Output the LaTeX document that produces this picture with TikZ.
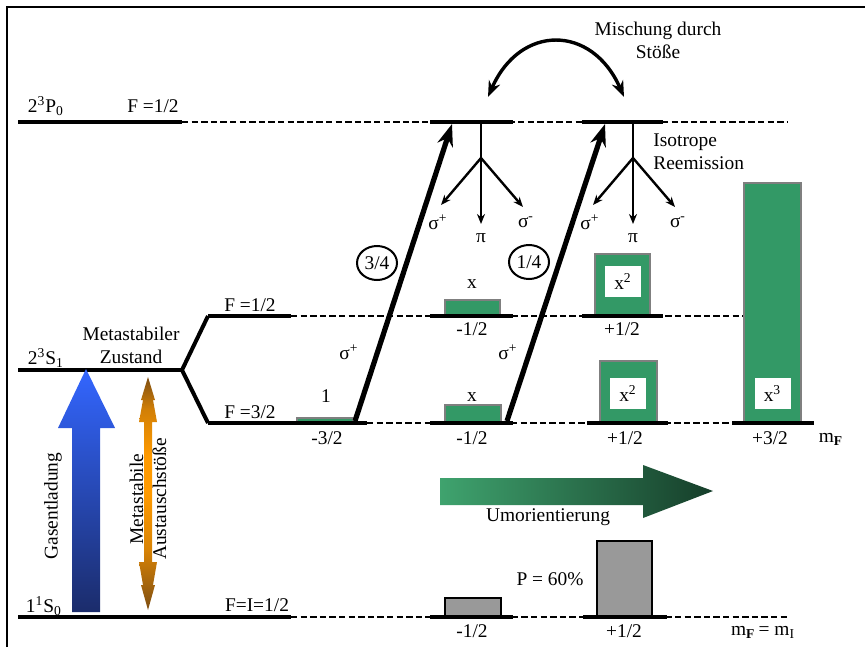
\documentclass[tikz,border=0pt]{standalone}
\usepackage{fontspec}
\setmainfont{Liberation Serif}
\usepackage{tikz}
\usetikzlibrary{arrows.meta,shapes.geometric}
\definecolor{popgreen}{HTML}{339966}
\definecolor{bargray}{HTML}{999999}
\definecolor{edgegray}{HTML}{7F7F7F}
\definecolor{gasblue}{HTML}{3366FF}
\definecolor{gasnavy}{HTML}{1B2C6B}
\definecolor{exorange}{HTML}{FF9A00}
\definecolor{exbrown}{HTML}{7E4E12}
\definecolor{umlight}{HTML}{3FA36E}
\definecolor{umdark}{HTML}{163E2A}
\pgfdeclareverticalshading{exshade}{100bp}{color(0bp)=(exbrown); color(25bp)=(exbrown); color(38bp)=(exorange!70!exbrown); color(50bp)=(exorange); color(58bp)=(exorange); color(68bp)=(exorange!65!exbrown); color(75bp)=(exbrown); color(100bp)=(exbrown)}

\begin{document}
\begin{tikzpicture}[x=0.5pt,y=-0.5pt,every node/.style={font=\fontsize{9.7}{11.5}\selectfont,inner sep=1pt},lvl/.style={line width=2pt},dashlvl/.style={line width=0.6pt,dash pattern=on 3.2pt off 1.6pt},pump/.style={-{Stealth[length=11pt,width=8pt]},line width=2.6pt},emit/.style={-{Stealth[length=5pt,width=4pt]},line width=1.2pt},popbar/.style={draw=edgegray,line width=0.9pt,fill=popgreen},graybar/.style={draw=black,line width=0.8pt,fill=bargray},inbox/.style={fill=white,minimum width=18pt,minimum height=15.5pt,inner sep=0pt},ring/.style={draw,ellipse,line width=1pt,minimum width=20pt,minimum height=17pt,inner sep=0pt}]
\useasboundingbox (0,0) rectangle (865,647);
\draw[line width=1pt] (7,647) -- (7,7) -- (865,7);

% dashed baselines
\draw[dashlvl] (182,122) -- (787,122);
\draw[dashlvl] (291,316) -- (745,316);
\draw[dashlvl] (367,423) -- (732,423);
\draw[dashlvl] (291,617) -- (787,617);

% populations
\draw[popbar] (445,300) rectangle (500,316);
\draw[popbar] (595,254) rectangle (650,316);
\draw[popbar] (297,418) rectangle (353,423);
\draw[popbar] (445,405) rectangle (501,423);
\draw[popbar] (600,361) rectangle (657,423);
\draw[popbar] (744,183) rectangle (801,423);
\draw[graybar] (445,598) rectangle (501,617);
\draw[graybar] (597,541) rectangle (652,617);
\node[inbox] (xa) at (623,281.5) {x\textsuperscript{2}};
\node[inbox] (xb) at (628,393.5) {x\textsuperscript{2}};
\node[inbox] (xc) at (772.5,393.5) {x\textsuperscript{3}};

% levels
\draw[lvl] (18,122) -- (182,122);
\draw[lvl] (430,122) -- (513,122) (582,122) -- (663,122);
\draw[lvl,line join=round] (208,316) -- (182,370) -- (208,423);
\draw[lvl] (18,370) -- (182,370);
\draw[lvl] (208,316) -- (291,316) (430,316) -- (513,316) (582,316) -- (663,316);
\draw[lvl] (208,423) -- (367,423) (430,423) -- (513,423) (587,423) -- (668,423) (732,423) -- (814,423);
\draw[lvl] (18,617) -- (291,617) (430,617) -- (513,617) (583,617) -- (667,617);

% pumping
\coordinate (lowA) at (355,421);
\coordinate (upA) at (452,124);
\coordinate (lowB) at (507,421);
\coordinate (upB) at (605,124);
\draw[pump] (lowA) -- (upA);
\draw[pump] (lowB) -- (upB);
\node[ring] (r34) at (377,263) {3/4};
\node[ring] (r14) at (529,262) {1/4};
\node (sgA) at (349,352) {σ\textsuperscript{+}};
\node (sgB) at (508,352) {σ\textsuperscript{+}};

% reemission
\foreach \c/\n in {481/a,633/b}{
  \coordinate (top\n) at (\c,122);
  \coordinate (br\n) at (\c,158);
  \coordinate (le\n) at (\c-40,205);
  \coordinate (mi\n) at (\c,224);
  \coordinate (ri\n) at (\c+42,207);
  \draw[line width=1.2pt] (top\n) -- (br\n);
  \draw[emit] (br\n) -- (le\n);
  \draw[emit] (br\n) -- (mi\n);
  \draw[emit] (br\n) -- (ri\n);
  \node (sp\n) at (\c-43,222) {σ\textsuperscript{+}};
  \node (pi\n) at (\c,238) {π};
  \node (sm\n) at (\c+45,222) {σ\textsuperscript{-}};
}
\coordinate (mixL) at (488,97);
\coordinate (mixR) at (624,97);
\draw[{Stealth[length=8pt,width=6pt]}-{Stealth[length=8pt,width=6pt]},line width=1.7pt] (mixL) .. controls (520,24) and (592,24) .. (mixR);
\node[align=center] (mix) at (658,40) {Mischung durch\\Stöße};
\node[align=left,anchor=west] (iso) at (651,152) {Isotrope\\Reemission};

% excitation
\shade[top color=gasblue,bottom color=gasnavy] (72,612) -- (100,612) -- (100,428) -- (115,428) -- (86,369) -- (58,428) -- (72,428) -- cycle;
\shade[shading=exshade] (148,377) -- (155,400) -- (153,400) -- (157,422) -- (152,422) -- (152,562) -- (157,562) -- (153,585) -- (155,585) -- (148,610) -- (141,585) -- (143,585) -- (139,562) -- (144,562) -- (144,422) -- (139,422) -- (143,400) -- (141,400) -- cycle;
\node[rotate=90] (gas) at (53,506) {Gasentladung};
\node[rotate=90,align=center] (ex) at (148,499) {Metastabile\\Austauschstöße};
\shade[left color=umlight,right color=umdark] (440,478) -- (643,478) -- (643,465) -- (713,491) -- (643,518) -- (643,505) -- (440,505) -- cycle;
\node (um) at (548,517) {Umorientierung};

% labels
\node (p0) at (46,106) {2\textsuperscript{3}P\textsubscript{0}};
\node (fp) at (153,106) {F =1/2};
\node (s1) at (46,358) {2\textsuperscript{3}S\textsubscript{1}};
\node[align=center] (meta) at (131,345) {Metastabiler\\Zustand};
\node (f12) at (250,305) {F =1/2};
\node (f32) at (250,412) {F =3/2};
\node (s0) at (44,606) {1\textsuperscript{1}S\textsubscript{0}};
\node (fi) at (257,605) {F=I=1/2};
\node (n1) at (326,396) {1};
\node (xd) at (472,284) {x};
\node (xe) at (472,397) {x};
\node (m1) at (472,329) {-1/2};
\node (m2) at (622,329) {+1/2};
\node (m3) at (327,438) {-3/2};
\node (m4) at (472,438) {-1/2};
\node (m5) at (625,438) {+1/2};
\node (m6) at (770,438) {+3/2};
\node (mf) at (831,439) {m\textsubscript{\textbf{F}}};
\node (pol) at (550,579) {P = 60\%};
\node (m7) at (472,631) {-1/2};
\node (m8) at (624,631) {+1/2};
\node (mfi) at (763,632) {m\textsubscript{\textbf{F}}\,= m\textsubscript{I}};
\end{tikzpicture}
\end{document}
